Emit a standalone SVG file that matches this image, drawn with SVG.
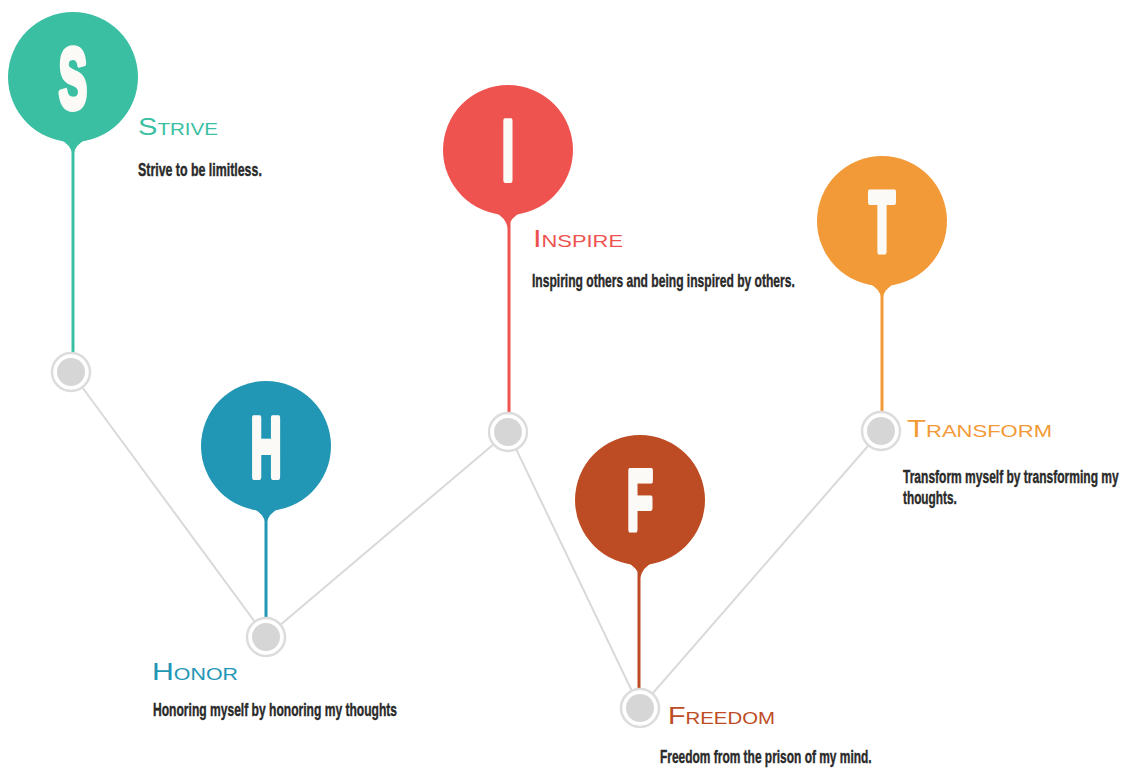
<svg xmlns="http://www.w3.org/2000/svg" width="1127" height="768" viewBox="0 0 1127 768">
<style>
.letter{font-family:"Liberation Sans",Arial,sans-serif;font-weight:bold;font-size:85px;fill:#fbfaf6;stroke:#fbfaf6;stroke-width:6;stroke-linejoin:round;text-anchor:middle}
.title{font-family:"Liberation Sans",Arial,sans-serif;font-variant:small-caps;font-size:24px}
.desc{font-family:"Liberation Sans",Arial,sans-serif;font-weight:bold;font-size:18px;fill:#2a2a2a;stroke:#2a2a2a;stroke-width:0.4}
.conn{stroke:#d9d9d9;stroke-width:2;fill:none}
.ring{fill:#fff;stroke:#dcdcdc;stroke-width:2.5}
.dot{fill:#d6d6d6}
.stem{stroke-width:3}
</style>
<rect width="1127" height="768" fill="#fff"/>
<g id="connectors">
<polyline class="conn" points="71,372 266,637 508,432 640,708 881,431"/>
</g>
<g id="node-S">
<line class="stem" x1="73" y1="150" x2="73" y2="353" stroke="#3bbfa3"/>
<circle cx="73" cy="77" r="65" fill="#3bbfa3"/>
<path d="M61,140 Q70,144 73,155 Q76,144 85,140 Z" fill="#3bbfa3"/>
<text class="letter" transform="translate(73,108) scale(0.5,1)">S</text>
<circle class="ring" cx="71" cy="372" r="19"/>
<circle class="dot" cx="71" cy="372" r="14"/>
<text class="title" x="138" y="135" fill="#3bbfa3" textLength="80" lengthAdjust="spacingAndGlyphs">Strive</text>
<text class="desc" transform="translate(138,176) scale(0.72,1)" textLength="172" lengthAdjust="spacingAndGlyphs">Strive to be limitless.</text>
</g>
<g id="node-H">
<line class="stem" x1="266" y1="518" x2="266" y2="618" stroke="#2296b5"/>
<circle cx="266" cy="446" r="65" fill="#2296b5"/>
<path d="M254,509 Q263,513 266,524 Q269,513 278,509 Z" fill="#2296b5"/>
<text class="letter" transform="translate(266,477) scale(0.5,1)">H</text>
<circle class="ring" cx="266" cy="637" r="19"/>
<circle class="dot" cx="266" cy="637" r="14"/>
<text class="title" x="152" y="680" fill="#2296b5" font-size="28" textLength="86" lengthAdjust="spacingAndGlyphs">Honor</text>
<text class="desc" transform="translate(153,716) scale(0.72,1)" textLength="339" lengthAdjust="spacingAndGlyphs">Honoring myself by honoring my thoughts</text>
</g>
<g id="node-I">
<line class="stem" x1="509" y1="222" x2="509" y2="413" stroke="#ee534f"/>
<circle cx="508" cy="150" r="65" fill="#ee534f"/>
<path d="M496,213 Q505,217 508,228 Q511,217 520,213 Z" fill="#ee534f"/>
<text class="letter" transform="translate(508,180) scale(0.5,1)">I</text>
<circle class="ring" cx="508" cy="432" r="19"/>
<circle class="dot" cx="508" cy="432" r="14"/>
<text class="title" x="533" y="247" fill="#ee534f" textLength="90" lengthAdjust="spacingAndGlyphs">Inspire</text>
<text class="desc" transform="translate(532,287) scale(0.72,1)" textLength="365" lengthAdjust="spacingAndGlyphs">Inspiring others and being inspired by others.</text>
</g>
<g id="node-F">
<line class="stem" x1="639" y1="572" x2="639" y2="689" stroke="#bd4c24"/>
<circle cx="640" cy="500" r="65" fill="#bd4c24"/>
<path d="M628,563 Q637,567 640,578 Q643,567 652,563 Z" fill="#bd4c24"/>
<text class="letter" transform="translate(640,530) scale(0.5,1)">F</text>
<circle class="ring" cx="640" cy="708" r="19"/>
<circle class="dot" cx="640" cy="708" r="14"/>
<text class="title" x="668" y="724" fill="#bd4c24" font-size="26" textLength="107" lengthAdjust="spacingAndGlyphs">Freedom</text>
<text class="desc" transform="translate(660,763) scale(0.72,1)" textLength="294" lengthAdjust="spacingAndGlyphs">Freedom from the prison of my mind.</text>
</g>
<g id="node-T">
<line class="stem" x1="882" y1="292" x2="882" y2="412" stroke="#f39a38"/>
<circle cx="882" cy="221" r="65" fill="#f39a38"/>
<path d="M870,284 Q879,288 882,299 Q885,288 894,284 Z" fill="#f39a38"/>
<text class="letter" transform="translate(882,251) scale(0.5,1)">T</text>
<circle class="ring" cx="881" cy="431" r="19"/>
<circle class="dot" cx="881" cy="431" r="14"/>
<text class="title" x="907" y="437" fill="#f39a38" textLength="145" lengthAdjust="spacingAndGlyphs">Transform</text>
<text class="desc" transform="translate(903,483) scale(0.64,1)" textLength="337" lengthAdjust="spacingAndGlyphs">Transform myself by transforming my</text>
<text class="desc" transform="translate(903,504) scale(0.64,1)" textLength="84" lengthAdjust="spacingAndGlyphs">thoughts.</text>
</g>
</svg>
